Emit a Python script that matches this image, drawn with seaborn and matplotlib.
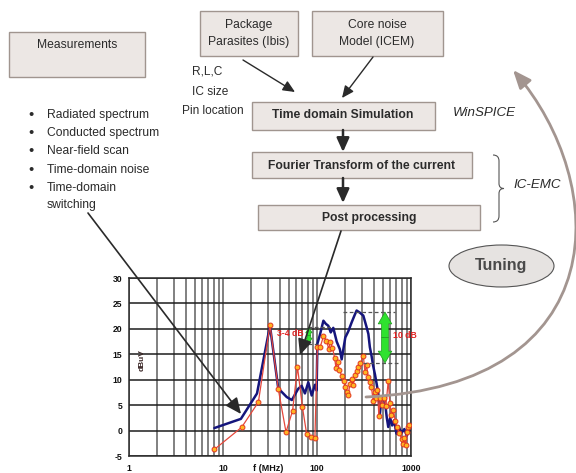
import matplotlib
matplotlib.use("Agg")
import matplotlib.pyplot as plt
import pandas as pd
import seaborn as sns
from matplotlib.patches import Rectangle, Ellipse, FancyArrowPatch, PathPatch
from matplotlib.path import Path
from matplotlib.ticker import LogLocator, NullFormatter

# ---------------------------------------------------------------- data
# Measured emission spectrum (blue), f in MHz, level in dBuV
meas_freq = [8.1, 15.5, 23, 31.6, 38.7, 47.6, 54, 63, 68.6, 74.4, 80.8, 87.8, 95, 99,
             101, 108, 117, 124, 132, 140, 149, 162, 175, 183, 200, 215, 234, 250,
             264, 285, 311, 335, 352, 365, 382, 395, 414, 431, 449, 467, 486, 529,
             552, 573, 600, 630, 660, 700, 740, 790, 850, 900, 955]
meas_level = [0.5, 2.3, 7.3, 20.6, 8.3, 6.6, 6.0, 8.2, 8.8, 7.3, 9.5, 6.9, 9.0, 7.9,
              17.1, 19.0, 21.6, 21.0, 20.6, 19.3, 20.2, 17.5, 16.0, 14.0, 18.3, 19.5,
              21.3, 22.6, 23.6, 23.2, 22.6, 20.5, 19.0, 16.4, 14.5, 12.8, 11.0, 9.2,
              7.2, 3.3, 6.5, 5.6, 2.6, 0.7, 2.5, 1.0, 2.0, -0.6, 0.8, -0.5, 0.3, -1.0, 0.0]

# Simulated spectrum (red line, orange markers)
sim_freq = [8.1, 15.8, 23.8, 31.6, 38.7, 46.8, 55, 62, 70, 77.6, 85.5, 95, 101, 108,
            117, 126, 133, 139, 146, 154, 159, 166, 172, 183, 192, 200, 208, 215, 224,
            234, 243, 252, 264, 275, 290, 311, 324, 337, 351, 365, 380, 395, 410, 425,
            440, 455, 470, 490, 515, 540, 573, 595, 620, 650, 680, 713, 750, 794, 824,
            850, 880, 910, 934, 960]
sim_level = [-3.7, 0.65, 5.6, 20.8, 8.2, -0.3, 3.9, 12.5, 4.6, -0.65, -1.3, -1.4, 16.5,
             16.4, 18.5, 17.7, 16.1, 17.4, 16.3, 14.3, 12.3, 13.5, 12.0, 10.8, 9.8, 8.5,
             7.5, 6.9, 9.2, 10.2, 9.0, 11.0, 11.8, 12.5, 13.3, 14.7, 11.5, 12.8, 10.5,
             9.5, 8.5, 5.9, 7.5, 6.5, 8.0, 2.9, 6.5, 5.0, 6.5, 4.8, 9.8, 5.5, 3.0, 4.0,
             1.8, 0.65, -0.5, -1.6, -2.6, -1.5, -2.8, -0.3, 0.65, 1.0]

x_ticks = [1, 10, 100, 1000]
x_tick_labels = ["1", "10", "100", "1000"]
y_ticks = [-5, 0, 5, 10, 15, 20, 25, 30]

# Level gaps highlighted on the spectrum: (frequency of arrow, low, high, label)
gap_small = (82, 17.1, 20.3, "3-4 dB")
gap_large = (529, 13.3, 23.3, "10 dB")

measurement_items = ["Radiated spectrum", "Conducted spectrum", "Near-field scan",
                     "Time-domain noise", "Time-domain"]
package_inputs = ["R,L,C", "IC size", "Pin location"]

# ---------------------------------------------------------------- style
sns.set_theme(style="white")
plt.rcParams["font.family"] = ["Liberation Sans", "DejaVu Sans"]
plt.rcParams["axes.unicode_minus"] = False

W, H = 576, 473
fig = plt.figure(figsize=(W / 100, H / 100), dpi=100)
fig.patch.set_facecolor("white")

# ---------------------------------------------------------------- spectrum chart
ax = fig.add_axes([129 / W, 1 - 456 / H, 282 / W, 178 / H])
ax.set_facecolor("white")

df_meas = pd.DataFrame({"f": meas_freq, "level": meas_level})
df_sim = pd.DataFrame({"f": sim_freq, "level": sim_level})

sns.lineplot(data=df_meas, x="f", y="level", ax=ax, color="#15157c", lw=1.8,
             estimator=None, sort=False, zorder=3)
sns.lineplot(data=df_sim, x="f", y="level", ax=ax, color="#e5483c", lw=0.9,
             marker="o", markersize=3.5, markerfacecolor="#ffb522",
             markeredgecolor="#e2361e", markeredgewidth=0.7,
             estimator=None, sort=False, zorder=4)

ax.set_xscale("log")
ax.set_xlim(1, 1000)
ax.set_ylim(-5, 30)
ax.set_xticks(x_ticks)
ax.set_xticklabels(x_tick_labels)
ax.xaxis.set_minor_locator(LogLocator(base=10, subs=range(2, 10)))
ax.xaxis.set_minor_formatter(NullFormatter())
ax.set_yticks(y_ticks)
ax.set_yticklabels([str(v) for v in y_ticks])
ax.set_xlabel("")
ax.set_ylabel("")
ax.grid(which="both", axis="x", color="#5e5e5e", lw=1.1)
ax.grid(which="major", axis="y", color="#1c1c1c", lw=1.1)
ax.tick_params(axis="both", which="both", length=0, labelsize=6.2, colors="#111")
ax.tick_params(axis="x", pad=6)
ax.tick_params(axis="y", pad=5)
for lab in ax.get_xticklabels() + ax.get_yticklabels():
    lab.set_fontweight("bold")
for sp in ax.spines.values():
    sp.set_color("#2a2a2a")
    sp.set_linewidth(1.1)

ax.text(0.493, -0.073, "f (MHz)", transform=ax.transAxes, ha="center", va="center",
        fontsize=6.5, fontweight="bold", color="#111")
ax.text(0.046, 0.54, "dBuV", transform=ax.transAxes, rotation=90, ha="center",
        va="center", fontsize=6, fontweight="bold", color="#3a2626")


def level_gap(ax, gap, x_text, span_top, span_bot, head, tail):
    f, lo, hi, label = gap
    mid = (lo + hi) / 2
    style = f"simple,head_length={head},head_width={head * 1.15},tail_width={tail}"
    for end in (hi, lo):
        ax.add_patch(FancyArrowPatch((f, mid), (f, end), arrowstyle=style,
                                     mutation_scale=1, fc="#2fe22f", ec="#1d9a1d",
                                     lw=0.5, shrinkA=0, shrinkB=0, zorder=6))
    ax.plot(span_top, [hi, hi], ls=(0, (3, 2)), color="#555", lw=0.9, zorder=5)
    ax.plot(span_bot, [lo, lo], ls=(0, (3, 2)), color="#555", lw=0.9, zorder=5)
    ax.text(x_text, mid + 0.4, label, ha="center", va="center", fontsize=6.2,
            fontweight="bold", color="#e02020", zorder=7)


level_gap(ax, gap_small, 51.6, [80, 140], [80, 100], head=4, tail=2.6)
level_gap(ax, gap_large, 860, [189, 676], [309, 733], head=8.5, tail=5)

# ---------------------------------------------------------------- flow diagram
ov = fig.add_axes([0, 0, 1, 1])
ov.set_xlim(0, W)
ov.set_ylim(H, 0)
ov.axis("off")

BOX_FC, BOX_EC = "#ece7e4", "#a0958f"
TXT = "#2b2b2b"


def box(x0, y0, x1, y1):
    ov.add_patch(Rectangle((x0, y0), x1 - x0, y1 - y0, fc=BOX_FC, ec=BOX_EC, lw=1.0))


box(9, 32, 145, 77)
ov.text(77, 45, "Measurements", ha="center", va="center", fontsize=8.7, color=TXT)

box(200, 11, 298, 56)
ov.text(249, 25, "Package", ha="center", va="center", fontsize=8.7, color=TXT)
ov.text(249, 42, "Parasites (Ibis)", ha="center", va="center", fontsize=8.7, color=TXT)

box(312, 11, 443, 56)
ov.text(377, 25, "Core noise", ha="center", va="center", fontsize=8.7, color=TXT)
ov.text(377, 42, "Model (ICEM)", ha="center", va="center", fontsize=8.7, color=TXT)

box(252, 102, 435, 130)
ov.text(343, 115, "Time domain Simulation", ha="center", va="center", fontsize=8.7,
        fontweight="bold", color=TXT)
box(252, 152, 472, 178)
ov.text(362, 166, "Fourier Transform of the current", ha="center", va="center",
        fontsize=8.7, fontweight="bold", color=TXT)
box(258, 205, 480, 230)
ov.text(369, 218, "Post processing", ha="center", va="center", fontsize=8.7,
        fontweight="bold", color=TXT)

# package inputs
for (x, y), s in zip([(192, 72), (192, 92), (182, 111)], package_inputs):
    ov.text(x, y, s, ha="left", va="center", fontsize=8.6, color=TXT)

# measurement list
for i, s in enumerate(measurement_items):
    y = 115 + i * 18.2
    ov.text(31, y, "\u2022", ha="center", va="center", fontsize=10.5, color=TXT)
    ov.text(47, y, s, ha="left", va="center", fontsize=8.7, color=TXT)
ov.text(47, 205, "switching", ha="left", va="center", fontsize=8.7, color=TXT)

# tool names
ov.text(453, 113, "WinSPICE", ha="left", va="center", fontsize=9.6,
        fontstyle="italic", color=TXT)
ov.text(513, 185, "IC-EMC", ha="left", va="center", fontsize=9.6,
        fontstyle="italic", color=TXT)

# curly brace grouping the IC-EMC steps
bx, btop, bbot = 493, 155, 222
bmid = (btop + bbot) / 2
brace = Path(
    [(bx, btop), (bx + 6, btop), (bx + 6, btop + 6),
     (bx + 6, bmid - 5),
     (bx + 6, bmid), (bx + 11, bmid),
     (bx + 6, bmid), (bx + 6, bmid + 5),
     (bx + 6, bbot - 6),
     (bx + 6, bbot), (bx, bbot)],
    [Path.MOVETO, Path.CURVE3, Path.CURVE3, Path.LINETO, Path.CURVE3, Path.CURVE3,
     Path.CURVE3, Path.CURVE3, Path.LINETO, Path.CURVE3, Path.CURVE3])
ov.add_patch(PathPatch(brace, fc="none", ec="#555", lw=0.8))

# tuning loop
ov.add_patch(Ellipse((501.5, 266), 105, 42, fc="#e6e3e1", ec="#555", lw=0.8))
ov.text(501.5, 265, "Tuning", ha="center", va="center", fontsize=11.5,
        fontweight="bold", color="#4a4a4a")

loop = Path([(366, 397), (616, 385), (610.5, 184), (513, 70)],
            [Path.MOVETO, Path.CURVE4, Path.CURVE4, Path.CURVE4])
ov.add_patch(FancyArrowPatch(path=loop, arrowstyle="-|>,head_length=11,head_width=4.5",
                             mutation_scale=1, color="#a39590", lw=2.0))

# straight flow arrows
def arrow(start, end, lw=1.0, head=0.6):
    ov.annotate("", xy=end, xytext=start,
                arrowprops=dict(arrowstyle=f"-|>,head_length={head},head_width={head * 0.45}",
                                color="#2a2a2a", lw=lw, shrinkA=0, shrinkB=0))


arrow((243, 60), (295, 92))
arrow((373, 57), (342, 98))
arrow((343, 130), (343, 152), lw=1.8, head=0.7)
arrow((343, 178), (343, 203), lw=1.8, head=0.7)
arrow((88, 213), (241, 414), lw=1.2, head=0.8)
arrow((341, 231), (300, 355), lw=1.2, head=0.8)

fig.savefig("out.png", dpi=100, facecolor="white")
